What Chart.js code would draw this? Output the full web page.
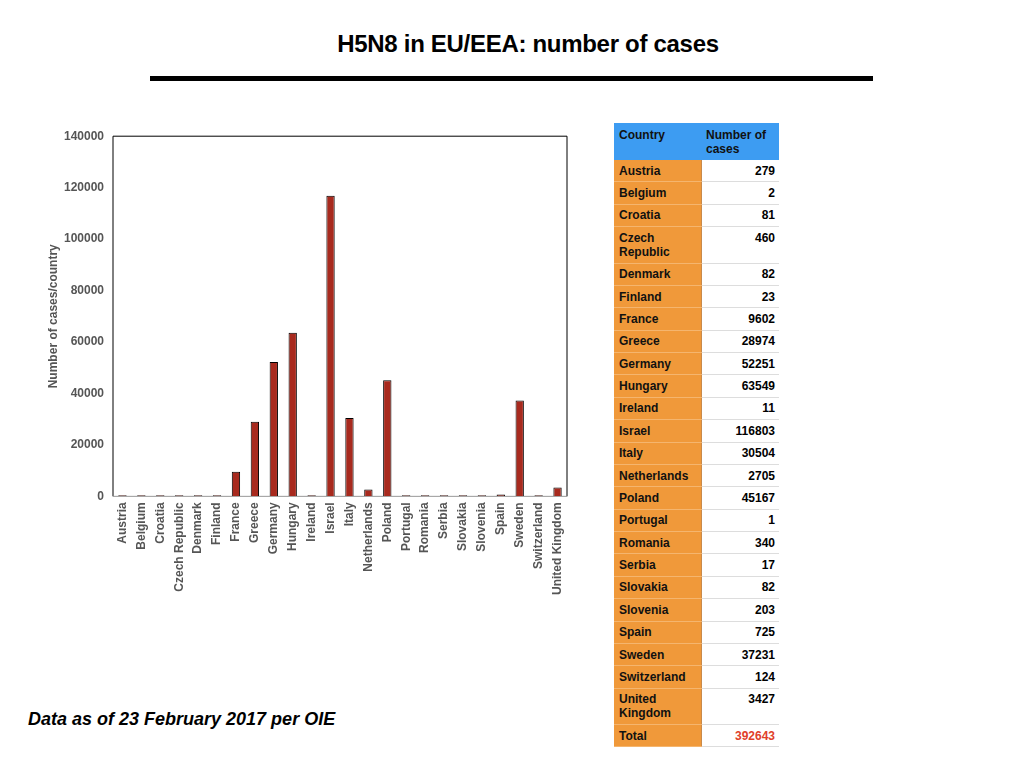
<!DOCTYPE html>
<html>
<head>
<meta charset="utf-8">
<script src="https://cdn.jsdelivr.net/npm/chart.js@4"></script>
<style>
    body { margin: 0; width: 1024px; height: 768px; background: #fff; position: relative; font-family: "Liberation Sans", Arial, sans-serif; overflow: hidden; }
    #title { position: absolute; left: 0; width: 1056px; top: 30px; text-align: center; font-size: 24px; font-weight: bold; color: #000; letter-spacing: -0.3px; }
    #rule { position: absolute; left: 150px; top: 76px; width: 723px; height: 5px; background: #000; }
    #chartBox { position: absolute; left: 40px; top: 120px; width: 540px; height: 481px; }
    #note { position: absolute; left: 28px; top: 709px; font-size: 18px; font-weight: bold; font-style: italic; color: #000; }
    table { position: absolute; left: 614px; top: 123px; width: 165px; border-collapse: collapse; font-size: 12px; font-weight: bold; }
    th { background: #3d9cf2; color: #111; text-align: left; vertical-align: top; padding: 5px 5px 4px 5px; height: 27px; line-height: 14px; }
    td { padding: 3.7px 4px 3.7px 5px; vertical-align: top; line-height: 14px; }
    td.c { background: #f0993a; color: #111; border-bottom: 1px solid #f5b56e; border-right: 1px solid #c98a4a; width: 77px; }
    td.v { background: #fff; text-align: right; border-bottom: 1px solid #ddd; }
    td.tot { color: #e0402a; }
</style>
</head>
<body>
<div id="title">H5N8 in EU/EEA: number of cases</div>
<div id="rule"></div>
<div id="chartBox"><canvas id="casesChart"></canvas></div>
<table id="casesTable"></table>
<div id="note">Data as of 23 February 2017 per OIE</div>
<script>
const countries = ['Austria', 'Belgium', 'Croatia', 'Czech Republic', 'Denmark', 'Finland', 'France', 'Greece', 'Germany', 'Hungary', 'Ireland', 'Israel', 'Italy', 'Netherlands', 'Poland', 'Portugal', 'Romania', 'Serbia', 'Slovakia', 'Slovenia', 'Spain', 'Sweden', 'Switzerland', 'United Kingdom'];
const cases = [279, 2, 81, 460, 82, 23, 9602, 28974, 52251, 63549, 11, 116803, 30504, 2705, 45167, 1, 340, 17, 82, 203, 725, 37231, 124, 3427];
const totalCases = 392643;
const yTicks = [0, 20000, 40000, 60000, 80000, 100000, 120000, 140000];

// Build the side table
function buildTable() {
    const table = document.getElementById('casesTable');
    let html = '<tr><th style="width:77px">Country</th><th>Number of cases</th></tr>';
    countries.forEach((name, i) => {
        html += `<tr><td class="c">${name}</td><td class="v">${cases[i]}</td></tr>`;
    });
    html += `<tr><td class="c">Total</td><td class="v tot">${totalCases}</td></tr>`;
    table.innerHTML = html;
}

// Frame round the plot area
const frame = {
    id: 'frame',
    beforeDatasetsDraw(chart) {
        const a = chart.chartArea, ctx = chart.ctx;
        ctx.save();
        ctx.strokeStyle = '#000';
        ctx.lineWidth = 1;
        ctx.beginPath();
        ctx.moveTo(a.left, a.bottom);
        ctx.lineTo(a.left, a.top);
        ctx.lineTo(a.right, a.top);
        ctx.lineTo(a.right, a.bottom);
        ctx.stroke();
        ctx.strokeStyle = '#999';
        ctx.beginPath();
        ctx.moveTo(a.left, a.bottom);
        ctx.lineTo(a.right, a.bottom);
        ctx.stroke();
        ctx.restore();
    }
};

function initChart() {
    const ctx = document.getElementById('casesChart').getContext('2d');
    new Chart(ctx, {
        type: 'bar',
        data: {
            labels: countries,
            datasets: [{
                data: cases,
                backgroundColor: '#a82a1e',
                borderColor: '#000',
                borderWidth: 1,
                categoryPercentage: 1,
                barPercentage: 0.44,
                minBarLength: 1
            }]
        },
        options: {
            responsive: true,
            maintainAspectRatio: false,
            animation: false,
            layout: { padding: { top: 6, right: 13, left: 6, bottom: 0 } },
            plugins: { legend: { display: false }, tooltip: { enabled: false } },
            scales: {
                x: {
                    grid: { display: false, drawTicks: false },
                    border: { display: false },
                    ticks: {
                        autoSkip: false, minRotation: 90, maxRotation: 90, padding: 6,
                        color: '#555', font: { family: 'Liberation Sans', size: 12, weight: 'bold' }
                    }
                },
                y: {
                    min: 0, max: 140000,
                    afterBuildTicks: axis => { axis.ticks = yTicks.map(v => ({ value: v })); },
                    afterFit: axis => { axis.width = 67; },
                    grid: { display: false, drawTicks: false },
                    border: { display: false },
                    ticks: {
                        padding: 9, color: '#555',
                        callback: v => String(v),
                        font: { family: 'Liberation Sans', size: 12, weight: 'bold' }
                    },
                    title: {
                        display: true, text: 'Number of cases/country', color: '#555',
                        font: { family: 'Liberation Sans', size: 12, weight: 'bold' },
                        padding: { top: 0, bottom: 4 }
                    }
                }
            }
        },
        plugins: [frame]
    });
}

buildTable();
initChart();
</script>
</body>
</html>
